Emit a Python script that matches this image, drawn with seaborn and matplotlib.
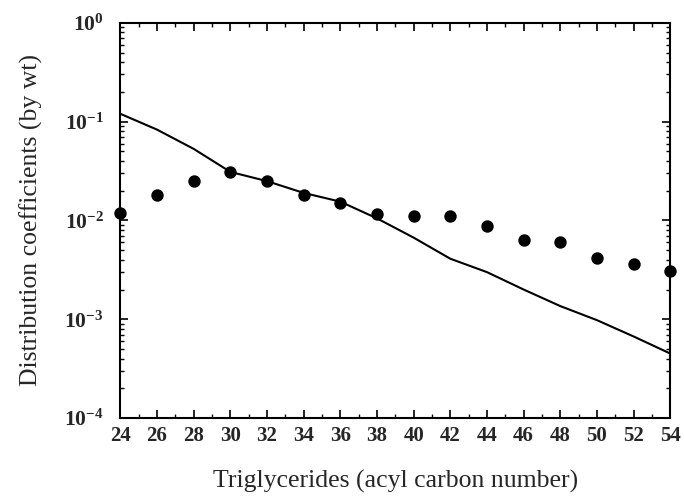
import matplotlib
matplotlib.use("Agg")
import matplotlib.pyplot as plt
import matplotlib.ticker as mticker
import numpy as np
import pandas as pd
import seaborn as sns

# Acyl carbon numbers of the triglycerides
carbon_number = [24, 26, 28, 30, 32, 34, 36, 38, 40, 42, 44, 46, 48, 50, 52, 54]
# Measured distribution coefficients (points)
measured = [0.012, 0.0183, 0.0248, 0.031, 0.025, 0.018, 0.015, 0.0115,
            0.011, 0.011, 0.0087, 0.0064, 0.0061, 0.0042, 0.0036, 0.0031]
# Predicted distribution coefficients (line)
predicted = [0.12, 0.083, 0.053, 0.031, 0.025, 0.019, 0.0155, 0.0105,
             0.0067, 0.0041, 0.0030, 0.0020, 0.00136, 0.00098, 0.00067, 0.00045]

x_ticks = list(range(24, 55, 2))
y_decades = [1e-4, 1e-3, 1e-2, 1e-1, 1e0]

df = pd.DataFrame({"cn": carbon_number, "measured": measured, "predicted": predicted})

sns.set_style("ticks")
plt.rcParams["font.family"] = ["Liberation Serif", "DejaVu Serif"]
plt.rcParams["mathtext.fontset"] = "custom"
plt.rcParams["mathtext.rm"] = "Liberation Serif:bold"
plt.rcParams["mathtext.bf"] = "Liberation Serif:bold"
plt.rcParams["mathtext.it"] = "Liberation Serif:bold"

fig = plt.figure(figsize=(6.84, 4.96), dpi=100)
ax = fig.add_axes([0.176, 0.157, 0.804, 0.797])

sns.lineplot(data=df, x="cn", y="predicted", ax=ax, color="black", linewidth=1.5)
sns.scatterplot(data=df, x="cn", y="measured", ax=ax, color="black", s=80,
                edgecolor="black", linewidth=0, zorder=3, clip_on=False)

ax.set_yscale("log")
ax.set_xlim(24, 54)
ax.set_ylim(1e-4, 1e0)

ax.set_xticks(x_ticks)
ax.set_xticklabels([str(v) for v in x_ticks], fontsize=15, fontweight="bold")
ax.xaxis.set_minor_locator(mticker.MultipleLocator(1))

ax.set_yticks(y_decades)
ax.set_yticklabels([r"$\mathbf{10^{%d}}$" % int(np.log10(v)) for v in y_decades], fontsize=15.5)
ax.yaxis.set_minor_locator(mticker.LogLocator(base=10, subs=np.arange(2, 10)))
ax.yaxis.set_minor_formatter(mticker.NullFormatter())

ax.tick_params(which="both", direction="in", top=True, right=True, color="black")
ax.tick_params(which="major", length=6, width=1.2)
ax.tick_params(which="minor", length=3, width=1.0)
ax.tick_params(axis="x", which="major", pad=6)
ax.tick_params(axis="y", which="major", pad=12)

for s in ax.spines.values():
    s.set_linewidth(1.5)
    s.set_color("black")

ax.set_xlabel("Triglycerides (acyl carbon number)", fontsize=18.5, labelpad=17)
ax.set_ylabel("Distribution coefficients (by wt)", fontsize=18.5, labelpad=15)

fig.savefig("out.png", dpi=100)
